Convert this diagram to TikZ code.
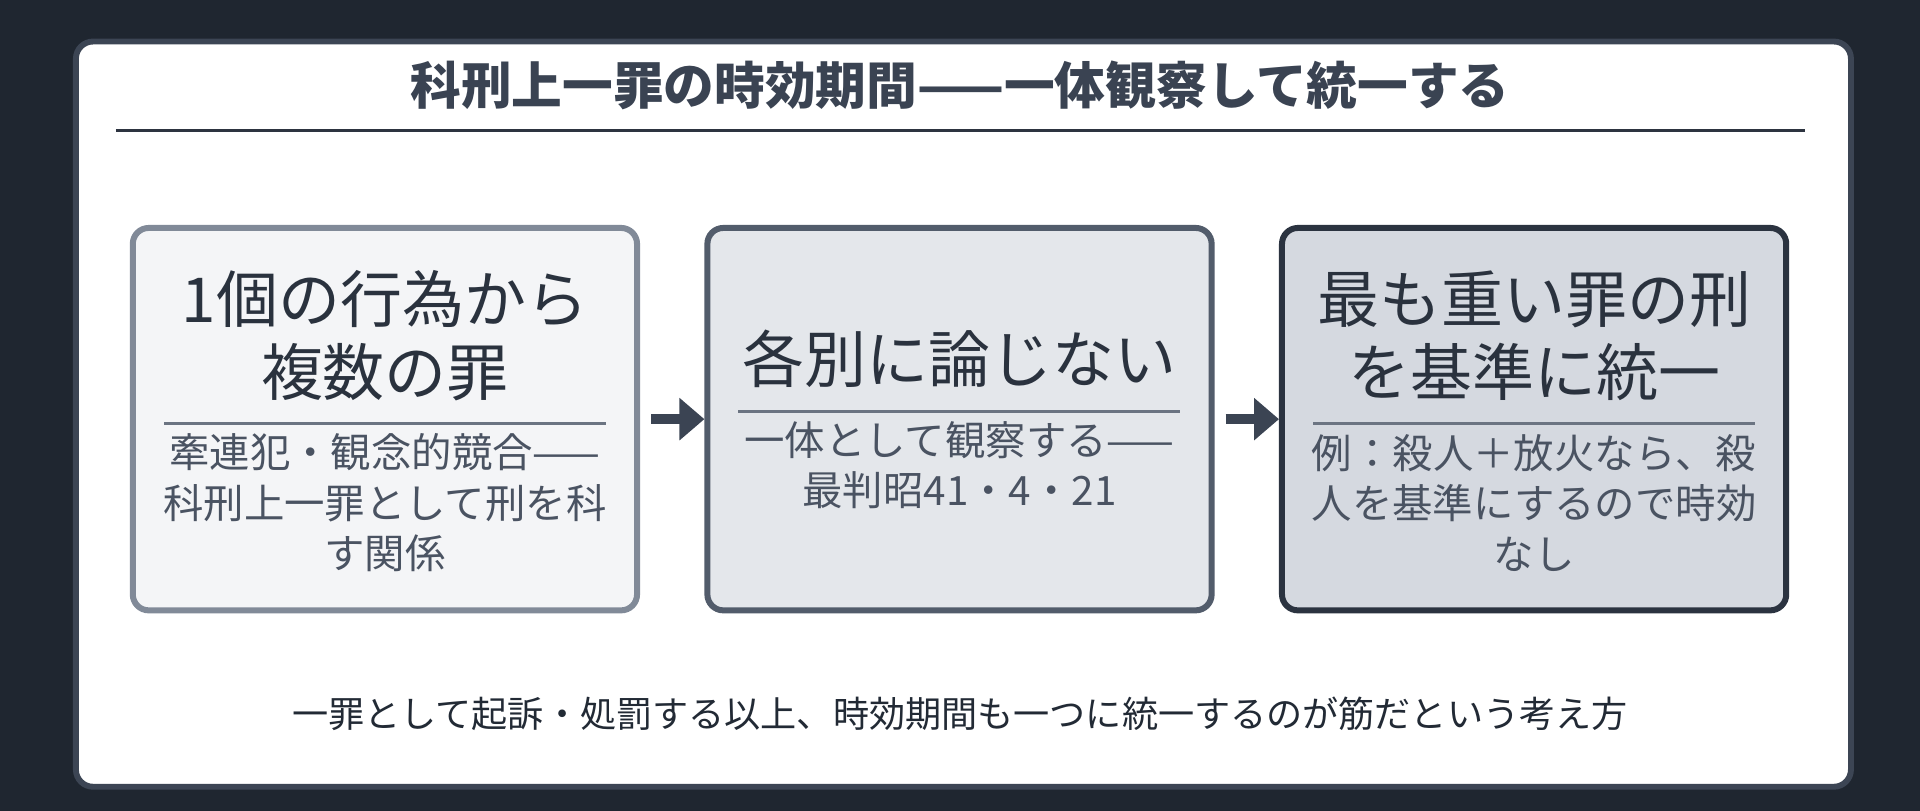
\documentclass[tikz,border=0pt]{standalone}
\usepackage{fontspec}
\setmainfont{Noto Sans CJK JP}
\usetikzlibrary{arrows.meta}
\definecolor{bgc}{HTML}{1F2630}
\definecolor{panelborder}{HTML}{3C4554}
\definecolor{titlec}{HTML}{3A4352}
\definecolor{rulec}{HTML}{2D3440}
\definecolor{fillA}{HTML}{F4F5F7}
\definecolor{fillB}{HTML}{E4E7EB}
\definecolor{fillC}{HTML}{D5D9E0}
\definecolor{drawA}{HTML}{818A98}
\definecolor{drawB}{HTML}{525C6B}
\definecolor{drawC}{HTML}{2B3340}
\definecolor{maintext}{HTML}{2A323E}
\definecolor{subtext}{HTML}{4A5362}
\definecolor{divc}{HTML}{6B7482}
\definecolor{arrowc}{HTML}{3B4453}
\definecolor{footc}{HTML}{222A35}
\tikzset{
  panelbox/.style={draw=panelborder, line width=4.8pt, fill=white, rounded corners=14pt, inner sep=0pt},
  stagebox/.style={line width=4.9pt, rounded corners=13pt, minimum width=411.8pt, minimum height=312.3pt, inner sep=0pt},
  maintxt/.style={text=maintext, align=center, font=\fontsize{50.6}{59.5}\selectfont, inner sep=0pt},
  subtxt/.style={text=subtext, align=center, font=\fontsize{33}{41.2}\selectfont, inner sep=0pt},
  divline/.style={draw=divc, line width=2.6pt},
  flowarrow/.style={draw=arrowc, line width=8.2pt, -{Triangle[length=20.4pt,width=33.5pt]}, shorten <=9pt, shorten >=0pt},
}
\begin{document}
\begin{tikzpicture}[x=1pt,y=-1pt]
\useasboundingbox (0,0) rectangle (1568,662.3);
\fill[bgc] (0,0) rectangle (1568,662.3);
\node[panelbox, minimum width=1449.6pt, minimum height=608.6pt, anchor=north west] (panel) at (59.6,31.5) {};
\node[text=titlec, font=\fontsize{41.4}{48}\selectfont\bfseries, inner sep=0pt] (title) at (784,70) {科刑上一罪の時効期間——一体観察して統一する};
\coordinate (ruleL) at (94.7,106.4);
\coordinate (ruleR) at (1474,106.4);
\draw[rulec, line width=2.2pt] (ruleL) -- (ruleR);

\node[stagebox, draw=drawA, fill=fillA] (box1) at (314.35,342.3) {};
\node[stagebox, draw=drawB, fill=fillB] (box2) at (783.6,342.3) {};
\node[stagebox, draw=drawC, fill=fillC] (box3) at (1252.85,342.3) {};

\node[maintxt] (m1) at (314.35,274) {1個の行為から\\複数の罪};
\draw[divline] (134,346) -- (495,346);
\node[subtxt] (s1) at (314.35,410.5) {牽連犯・観念的競合——\\科刑上一罪として刑を科\\す関係};

\node[maintxt] (m2) at (783.6,293) {各別に論じない};
\draw[divline] (603,336) -- (964,336);
\node[subtxt] (s2) at (783.6,380) {一体として観察する——\\最判昭41・4・21};

\node[maintxt] (m3) at (1252.85,274) {最も重い罪の刑\\を基準に統一};
\draw[divline] (1072.5,346) -- (1433.5,346);
\node[subtxt] (s3) at (1252.85,410.5) {例：殺人＋放火なら、殺\\人を基準にするので時効\\なし};

\draw[flowarrow] (box1.east) -- (box2.west);
\draw[flowarrow] (box2.east) -- (box3.west);

\node[text=footc, font=\fontsize{29.5}{35}\selectfont, inner sep=0pt] (foot) at (784,583) {一罪として起訴・処罰する以上、時効期間も一つに統一するのが筋だという考え方};
\end{tikzpicture}
\end{document}
